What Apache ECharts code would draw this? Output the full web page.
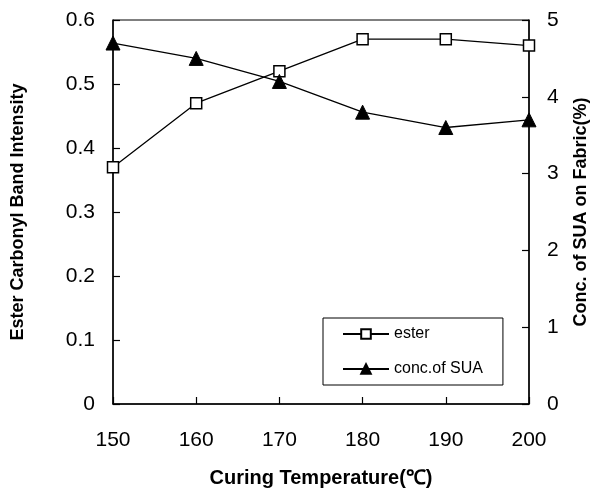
<!DOCTYPE html>
<html><head><meta charset="utf-8">
<script src="https://cdn.jsdelivr.net/npm/echarts@6/dist/echarts.min.js"></script>
<style>html,body{margin:0;padding:0;background:#fff}#c{width:592px;height:489px}</style>
</head><body><div id="c"></div>
<script>
const temps = [150, 160, 170, 180, 190, 200];
const ester = [0.37, 0.47, 0.52, 0.57, 0.57, 0.56];
const sua = [4.7, 4.5, 4.2, 3.8, 3.6, 3.7];
const xTitle = 'Curing Temperature(℃)';
const yLeftTitle = 'Ester Carbonyl Band Intensity';
const yRightTitle = 'Conc. of SUA on Fabric(%)';
const font = 'Liberation Sans, Arial, sans-serif';

const chart = echarts.init(document.getElementById('c'));
const axisCommon = {
  axisLine: {show: true, lineStyle: {color: '#000', width: 1.5}},
  axisTick: {show: true, inside: true, length: 7, lineStyle: {color: '#000', width: 1.2}},
  splitLine: {show: false},
  axisLabel: {color: '#000', fontSize: 21, fontFamily: font, margin: 18},
  nameTextStyle: {color: '#000', fontSize: 18, fontWeight: 'bold', fontFamily: font},
  nameLocation: 'middle'
};
chart.setOption({
  animation: false,
  grid: {left: 113, right: 63, top: 20, bottom: 85, show: true, borderColor: '#000', borderWidth: 1,
         outerBoundsMode: 'none', containLabel: false},
  legend: {
    left: 323, top: 318, orient: 'vertical',
    borderColor: '#000', borderWidth: 1, borderRadius: 0,
    padding: [8, 20, 8, 19], itemGap: 19, itemWidth: 46, itemHeight: 12,
    textStyle: {color: '#000', fontSize: 16, fontFamily: font},
    data: ['ester', 'conc.of SUA']
  },
  xAxis: Object.assign({}, axisCommon, {
    type: 'value', min: 150, max: 200, interval: 10,
    name: xTitle, nameGap: 64,
    axisLabel: Object.assign({}, axisCommon.axisLabel, {margin: 26}),
    nameTextStyle: Object.assign({}, axisCommon.nameTextStyle, {fontSize: 20})
  }),
  yAxis: [
    Object.assign({}, axisCommon, {
      type: 'value', min: 0, max: 0.6, interval: 0.1, position: 'left',
      name: yLeftTitle, nameGap: 86
    }),
    Object.assign({}, axisCommon, {
      type: 'value', min: 0, max: 5, interval: 1, position: 'right',
      name: yRightTitle, nameGap: 43
    })
  ],
  series: [
    {
      name: 'ester', type: 'line', yAxisIndex: 0,
      data: temps.map((t, i) => [t, ester[i]]),
      symbol: 'rect', symbolSize: 11,
      lineStyle: {color: '#000', width: 1.3},
      itemStyle: {color: '#fff', borderColor: '#000', borderWidth: 1.5}
    },
    {
      name: 'conc.of SUA', type: 'line', yAxisIndex: 1,
      data: temps.map((t, i) => [t, sua[i]]),
      symbol: 'triangle', symbolSize: 14,
      lineStyle: {color: '#000', width: 1.3},
      itemStyle: {color: '#000', borderColor: '#000', borderWidth: 1}
    }
  ]
});
</script></body></html>
